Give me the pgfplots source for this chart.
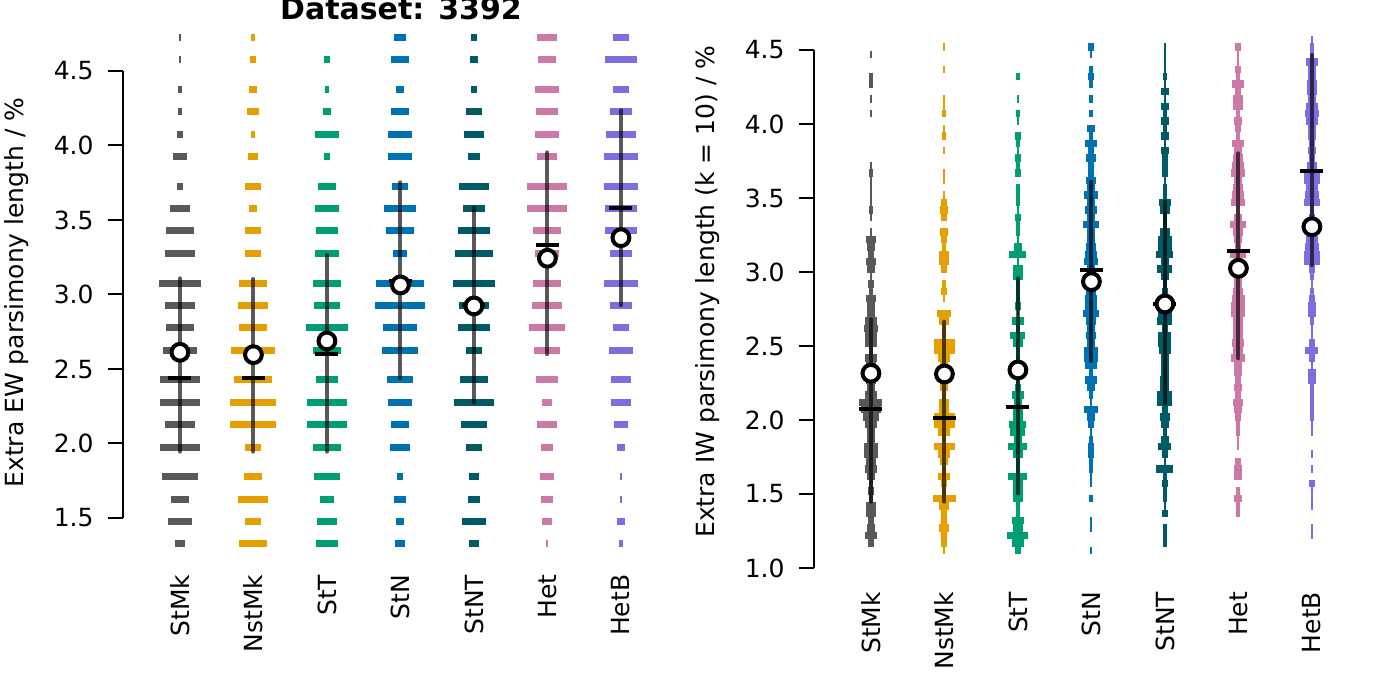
\documentclass[border=0pt]{standalone}
\usepackage{fontspec}
\setmainfont{DejaVu Sans}
\usepackage{pgfplots}
\pgfplotsset{compat=1.18}
\usepackage{pgfplotstable}

\definecolor{cStMk}{HTML}{595959}
\definecolor{cNstMk}{HTML}{E69F00}
\definecolor{cStT}{HTML}{009E73}
\definecolor{cStN}{HTML}{0072B2}
\definecolor{cStNT}{HTML}{005B66}
\definecolor{cHet}{HTML}{CC79A7}
\definecolor{cHetB}{HTML}{7B6FDF}

% bar widths in px at each level (EW panel)
\pgfplotstableread{
v StMk NstMk StT StN StNT Het HetB
4.726 2 4 0 12 6 20 16
4.579 2 6 6 18 8 18 32
4.377 4 8 4 8 6 24 16
4.227 4 12 8 18 16 22 22
4.075 6 4 24 24 20 24 30
3.928 14 10 6 24 12 20 34
3.726 6 16 18 16 30 40 34
3.576 20 8 24 32 22 40 32
3.428 28 16 22 28 32 28 32
3.277 30 16 24 14 38 24 22
3.075 42 28 28 48 42 28 34
2.928 30 30 26 50 30 30 22
2.777 28 28 42 34 32 36 16
2.626 34 44 28 36 16 26 24
2.428 40 38 22 26 28 22 20
2.277 40 46 40 24 40 10 20
2.126 30 46 40 18 26 20 14
1.974 40 16 28 20 16 12 8
1.777 36 18 26 6 10 14 2
1.626 18 30 14 12 12 12 2
1.475 24 16 20 8 24 10 8
1.328 10 28 22 10 10 2 4
}\ewdata

% bar widths in px at each level (IW panel)
\pgfplotstableread{
v StMk NstMk StT StN StNT Het HetB
4.57 0 0 0 0 0 0 2
4.52 0 2 0 6 2 6 4
4.47 2 0 0 2 2 2 4
4.42 0 0 0 0 2 2 12
4.37 0 2 0 4 2 6 8
4.32 4 0 4 6 4 4 8
4.27 4 0 0 4 2 12 10
4.22 0 0 0 0 8 6 10
4.17 2 2 2 4 2 10 8
4.12 0 2 0 0 8 10 12
4.07 2 4 4 4 4 4 14
4.02 0 0 2 0 8 8 12
3.97 0 2 0 8 4 6 8
3.92 0 4 6 4 8 4 8
3.87 0 0 4 12 2 12 6
3.82 0 2 2 6 8 8 8
3.77 0 0 6 10 6 10 6
3.72 2 0 4 6 6 12 10
3.67 4 2 6 6 6 14 16
3.62 2 2 0 10 2 8 16
3.57 2 0 4 8 4 10 12
3.52 2 2 4 14 4 12 14
3.47 2 6 4 8 12 14 16
3.42 4 8 2 12 10 4 4
3.37 2 6 6 8 4 8 6
3.32 0 0 4 16 4 16 6
3.27 2 8 4 8 10 10 6
3.22 10 6 2 8 14 8 12
3.17 8 4 8 10 14 6 14
3.12 6 10 17 12 17 16 16
3.07 10 10 2 14 8 8 16
3.02 8 6 10 8 15 8 6
2.97 2 0 10 8 8 8 4
2.92 6 4 4 8 4 8 2
2.87 4 6 4 10 6 10 4
2.82 10 2 4 12 8 13 6
2.77 8 0 6 12 8 14 8
2.72 8 14 2 16 14 14 8
2.67 12 10 12 10 15 10 4
2.62 14 4 4 8 6 10 2
2.57 12 4 15 10 13 10 2
2.52 12 21 10 8 13 12 6
2.47 4 21 4 14 12 10 13
2.42 12 12 4 14 8 14 6
2.37 10 8 4 12 8 8 2
2.32 10 8 4 4 8 8 8
2.27 10 8 4 12 9 6 8
2.22 8 8 6 8 9 8 4
2.17 12 4 12 4 15 6 4
2.12 23 10 8 2 15 10 4
2.07 20 10 10 14 6 8 4
2.02 16 21 10 8 10 6 4
1.97 12 21 17 6 8 4 2
1.92 8 12 15 2 4 4 2
1.87 8 4 8 4 8 2 0
1.82 14 21 19 6 13 2 0
1.77 14 12 10 6 6 0 2
1.72 10 8 4 4 2 6 0
1.67 12 4 4 4 17 8 2
1.62 8 12 19 2 4 8 0
1.57 4 6 10 2 6 0 6
1.52 6 4 10 0 4 4 2
1.47 4 23 10 4 4 8 2
1.42 10 10 4 0 2 4 2
1.37 10 6 4 0 6 4 0
1.32 6 6 12 2 0 0 0
1.27 8 10 10 2 4 0 2
1.22 12 6 21 0 4 0 2
1.17 6 6 12 0 4 0 0
1.12 0 2 6 2 0 0 0
}\iwdata

\pgfplotstableread{
c mean med lo hi
0 2.612 2.440 1.945 3.108
1 2.596 2.440 1.945 3.104
2 2.688 2.603 1.945 3.265
3 3.064 3.093 2.438 3.753
4 2.923 2.930 2.276 3.583
5 3.243 3.334 2.599 3.954
6 3.381 3.583 2.928 4.236
}\ewstats

\pgfplotstableread{
c mean med lo hi
0 2.316 2.076 1.448 2.680
1 2.311 2.016 1.448 2.664
2 2.338 2.088 1.505 2.957
3 2.935 3.016 2.399 3.610
4 2.784 2.784 2.113 3.475
5 3.025 3.144 2.417 3.802
6 3.306 3.685 3.047 4.466
}\iwstats

\pgfplotsset{
  catpanel/.style={
    x=36.75pt, xmin=-0.78, xmax=6.8,
    anchor=south west, clip=false,
    axis x line*=bottom, axis y line*=left,
    x axis line style={draw=none}, y axis line style={draw=none},
    xtick={0,...,6}, xticklabels={StMk,NstMk,StT,StN,StNT,Het,HetB},
    xtick style={draw=none},
    xticklabel style={rotate=90, anchor=east},
    xticklabel shift=-3.5pt,
    yticklabel shift=3.5pt,
    ytick style={black, line width=1pt},
    tick align=outside, major tick length=7.5pt,
    tick label style={font=\fontsize{12.5}{15}\selectfont},
    label style={font=\fontsize{12.5}{15}\selectfont},
  },
  sdline/.style={black, opacity=0.65, line width=2pt, line cap=round,
    quiver={u=0, v=\thisrow{hi}-\thisrow{lo}}},
  medline/.style={black, line width=2pt, quiver={u=0.313, v=0}},
  meanmark/.style={only marks, mark=*, mark size=4.2pt,
    mark options={fill=white, draw=black, line width=2pt}},
}

\begin{document}
\begin{tikzpicture}
\useasboundingbox (0,0) rectangle (691pt,345.5pt);

\node[anchor=base, font=\bfseries\fontsize{15}{18}\selectfont] at (200.5pt,335.5pt) {Dataset: 3392};

\begin{axis}[catpanel, at={(61.3pt,65.65pt)},
  y=74.5pt, ymin=1.22, ymax=4.8,
  ytick={1.5,2,2.5,3,3.5,4,4.5},
  yticklabels={1.5,2.0,2.5,3.0,3.5,4.0,4.5},
  ylabel={Extra EW parsimony length / \%},
  ylabel style={at={(axis cs:-2.218,3.013)}, anchor=center},
]
\draw[line width=1pt] (axis cs:-0.78,1.5) -- (axis cs:-0.78,4.5);
\addplot[cStMk, line width=3.5pt, quiver={u=\thisrow{StMk}/73.5, v=0}] table[x expr=0-\thisrow{StMk}/147, y=v] {\ewdata};
\addplot[cNstMk, line width=3.5pt, quiver={u=\thisrow{NstMk}/73.5, v=0}] table[x expr=1-\thisrow{NstMk}/147, y=v] {\ewdata};
\addplot[cStT, line width=3.5pt, quiver={u=\thisrow{StT}/73.5, v=0}] table[x expr=2-\thisrow{StT}/147, y=v] {\ewdata};
\addplot[cStN, line width=3.5pt, quiver={u=\thisrow{StN}/73.5, v=0}] table[x expr=3-\thisrow{StN}/147, y=v] {\ewdata};
\addplot[cStNT, line width=3.5pt, quiver={u=\thisrow{StNT}/73.5, v=0}] table[x expr=4-\thisrow{StNT}/147, y=v] {\ewdata};
\addplot[cHet, line width=3.5pt, quiver={u=\thisrow{Het}/73.5, v=0}] table[x expr=5-\thisrow{Het}/147, y=v] {\ewdata};
\addplot[cHetB, line width=3.5pt, quiver={u=\thisrow{HetB}/73.5, v=0}] table[x expr=6-\thisrow{HetB}/147, y=v] {\ewdata};
\addplot[sdline] table[x=c, y=lo] {\ewstats};
\addplot[medline] table[x expr=\thisrow{c}-0.1565, y=med] {\ewstats};
\addplot[meanmark] table[x=c, y=mean] {\ewstats};
\end{axis}

\begin{axis}[catpanel, at={(406.8pt,57.05pt)},
  y=74pt, ymin=0.94, ymax=4.62,
  ytick={1,1.5,2,2.5,3,3.5,4,4.5},
  yticklabels={1.0,1.5,2.0,2.5,3.0,3.5,4.0,4.5},
  ylabel={Extra IW parsimony length (k = 10) / \%},
  ylabel style={at={(axis cs:-2.227,2.867)}, anchor=center},
]
\draw[line width=1pt] (axis cs:-0.78,1) -- (axis cs:-0.78,4.5);
\addplot[cStMk, line width=3.7pt, quiver={u=\thisrow{StMk}/73.5, v=0}] table[x expr=0-\thisrow{StMk}/147, y=v] {\iwdata};
\addplot[cNstMk, line width=3.7pt, quiver={u=\thisrow{NstMk}/73.5, v=0}] table[x expr=1-\thisrow{NstMk}/147, y=v] {\iwdata};
\addplot[cStT, line width=3.7pt, quiver={u=\thisrow{StT}/73.5, v=0}] table[x expr=2-\thisrow{StT}/147, y=v] {\iwdata};
\addplot[cStN, line width=3.7pt, quiver={u=\thisrow{StN}/73.5, v=0}] table[x expr=3-\thisrow{StN}/147, y=v] {\iwdata};
\addplot[cStNT, line width=3.7pt, quiver={u=\thisrow{StNT}/73.5, v=0}] table[x expr=4-\thisrow{StNT}/147, y=v] {\iwdata};
\addplot[cHet, line width=3.7pt, quiver={u=\thisrow{Het}/73.5, v=0}] table[x expr=5-\thisrow{Het}/147, y=v] {\iwdata};
\addplot[cHetB, line width=3.7pt, quiver={u=\thisrow{HetB}/73.5, v=0}] table[x expr=6-\thisrow{HetB}/147, y=v] {\iwdata};
\addplot[sdline] table[x=c, y=lo] {\iwstats};
\addplot[medline] table[x expr=\thisrow{c}-0.1565, y=med] {\iwstats};
\addplot[meanmark] table[x=c, y=mean] {\iwstats};
\end{axis}
\end{tikzpicture}
\end{document}
